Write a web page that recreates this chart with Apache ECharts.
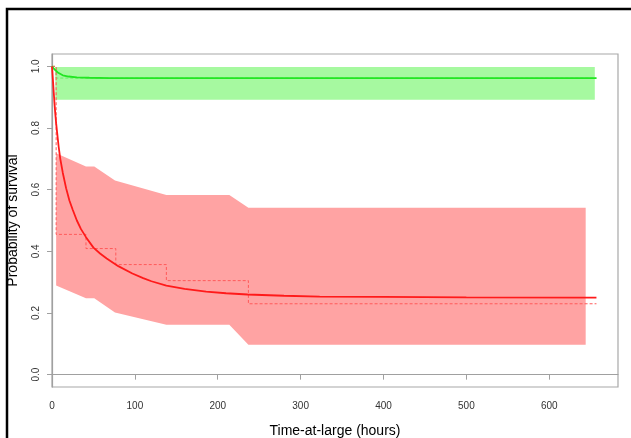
<!DOCTYPE html>
<html>
<head>
<meta charset="utf-8">
<script src="https://cdn.jsdelivr.net/npm/echarts@6/dist/echarts.min.js"></script>
<style>html,body{margin:0;padding:0;background:#fff;}#c{width:631px;height:438px;}</style>
</head>
<body>
<div id="c"></div>
<script>
// Tick labels
const xTicks = [0, 100, 200, 300, 400, 500, 600];
const yTicks = [0, 0.2, 0.4, 0.6, 0.8, 1.0];

// Green group: fitted curve, KM step, confidence band
const greenFitX = [0, 3, 7, 13, 20, 30, 45, 70, 120, 250, 657];
const greenFitY = [1.0, 0.99, 0.98, 0.971, 0.967, 0.964, 0.963, 0.962, 0.962, 0.962, 0.962];
const greenKmX = [0, 5, 657];
const greenKmY = [1.0, 0.962, 0.962];
const greenBandX = [4, 655];
const greenBandLo = [0.892, 0.892];
const greenBandHi = [0.998, 0.998];

// Red group: fitted curve, KM step, confidence band
const redFitX = [0, 1, 2, 3, 4, 5, 6, 8, 10, 13, 17, 21, 25, 30, 35, 41, 50, 58, 66, 80, 97, 110, 120, 138, 160, 186, 210, 236, 280, 323, 400, 500, 657];
const redFitY = [1.0, 0.96, 0.92, 0.88, 0.845, 0.815, 0.79, 0.74, 0.70, 0.655, 0.605, 0.565, 0.535, 0.50, 0.472, 0.446, 0.412, 0.393, 0.377, 0.352, 0.328, 0.313, 0.303, 0.289, 0.278, 0.269, 0.264, 0.26, 0.256, 0.253, 0.252, 0.251, 0.25];
const redKmX = [0, 5, 41, 77, 138, 237, 657];
const redKmY = [1.0, 0.455, 0.409, 0.357, 0.305, 0.23, 0.23];
const redBandX = [5, 41, 51, 76, 138, 214, 237, 644];
const redBandLo = [0.289, 0.248, 0.248, 0.202, 0.162, 0.162, 0.097, 0.097];
const redBandHi = [0.718, 0.675, 0.675, 0.63, 0.583, 0.583, 0.541, 0.541];

function zip(xs, ys) { return xs.map((x, i) => [x, ys[i]]); }

function bandSeries(xs, lo, hi, color) {
  return {
    type: 'custom',
    coordinateSystem: 'cartesian2d',
    silent: true,
    z: 1,
    data: xs.map((x, i) => [x, lo[i], hi[i]]),
    encode: { x: 0, y: [1, 2] },
    renderItem: function (params, api) {
      if (params.dataIndex !== 0) return null;
      const pts = [];
      for (let i = 0; i < xs.length; i++) pts.push(api.coord([xs[i], hi[i]]));
      for (let i = xs.length - 1; i >= 0; i--) pts.push(api.coord([xs[i], lo[i]]));
      return { type: 'polygon', shape: { points: pts }, style: { fill: color } };
    }
  };
}

const chart = echarts.init(document.getElementById('c'), null, { renderer: 'canvas' });
chart.setOption({
  animation: false,
  backgroundColor: '#fff',
  graphic: [{
    type: 'rect', z: 100, silent: true,
    shape: { x: 7, y: 9, width: 700, height: 500 },
    style: { fill: null, stroke: '#000', lineWidth: 2.5 }
  }],
  grid: {
    left: 52, right: 13, top: 54, bottom: 51,
    show: true, borderColor: '#a8a8a8', borderWidth: 1.2,
    containLabel: false, outerBoundsMode: 'none'
  },
  xAxis: {
    type: 'value', min: 0, max: 683,
    name: 'Time-at-large (hours)', nameLocation: 'middle', nameGap: 37,
    nameTextStyle: { fontFamily: 'Liberation Sans', fontSize: 14, color: '#000' },
    axisLine: { show: true, lineStyle: { color: '#a0a0a0', width: 1.2 } },
    axisTick: { show: true, length: 5, customValues: xTicks, lineStyle: { color: '#a0a0a0' } },
    axisLabel: { customValues: xTicks, margin: 14, fontFamily: 'Liberation Sans', fontSize: 10, color: '#333' },
    splitLine: { show: false }
  },
  yAxis: {
    type: 'value', min: -0.04, max: 1.04,
    name: 'Probability of survival', nameLocation: 'middle', nameGap: 32,
    nameTextStyle: { fontFamily: 'Liberation Sans', fontSize: 14, color: '#000' },
    axisLine: { show: true, lineStyle: { color: '#a0a0a0', width: 1.2 } },
    axisTick: { show: true, length: 5, customValues: yTicks, lineStyle: { color: '#a0a0a0' } },
    axisLabel: {
      customValues: yTicks, rotate: 90, margin: 11,
      fontFamily: 'Liberation Sans', fontSize: 10, color: '#333',
      formatter: v => v.toFixed(1)
    },
    splitLine: { show: false }
  },
  series: [
    bandSeries(greenBandX, greenBandLo, greenBandHi, '#a6f9a0'),
    bandSeries(redBandX, redBandLo, redBandHi, '#ffa3a3'),
    {
      type: 'line', data: zip(greenKmX, greenKmY), step: 'end', showSymbol: false, z: 3, silent: true,
      lineStyle: { color: '#66ee66', width: 1, type: [3, 2] }
    },
    {
      type: 'line', data: zip(redKmX, redKmY), step: 'end', showSymbol: false, z: 3, silent: true,
      lineStyle: { color: '#ff5a5a', width: 1, type: [3, 2] }
    },
    {
      type: 'line', data: zip(greenFitX, greenFitY), showSymbol: false, z: 4, silent: true,
      lineStyle: { color: '#22e622', width: 1.8 }
    },
    {
      type: 'line', data: zip(redFitX, redFitY), showSymbol: false, z: 4, silent: true,
      lineStyle: { color: '#ff1a1a', width: 1.8 }
    }
  ]
});
</script>
</body>
</html>
